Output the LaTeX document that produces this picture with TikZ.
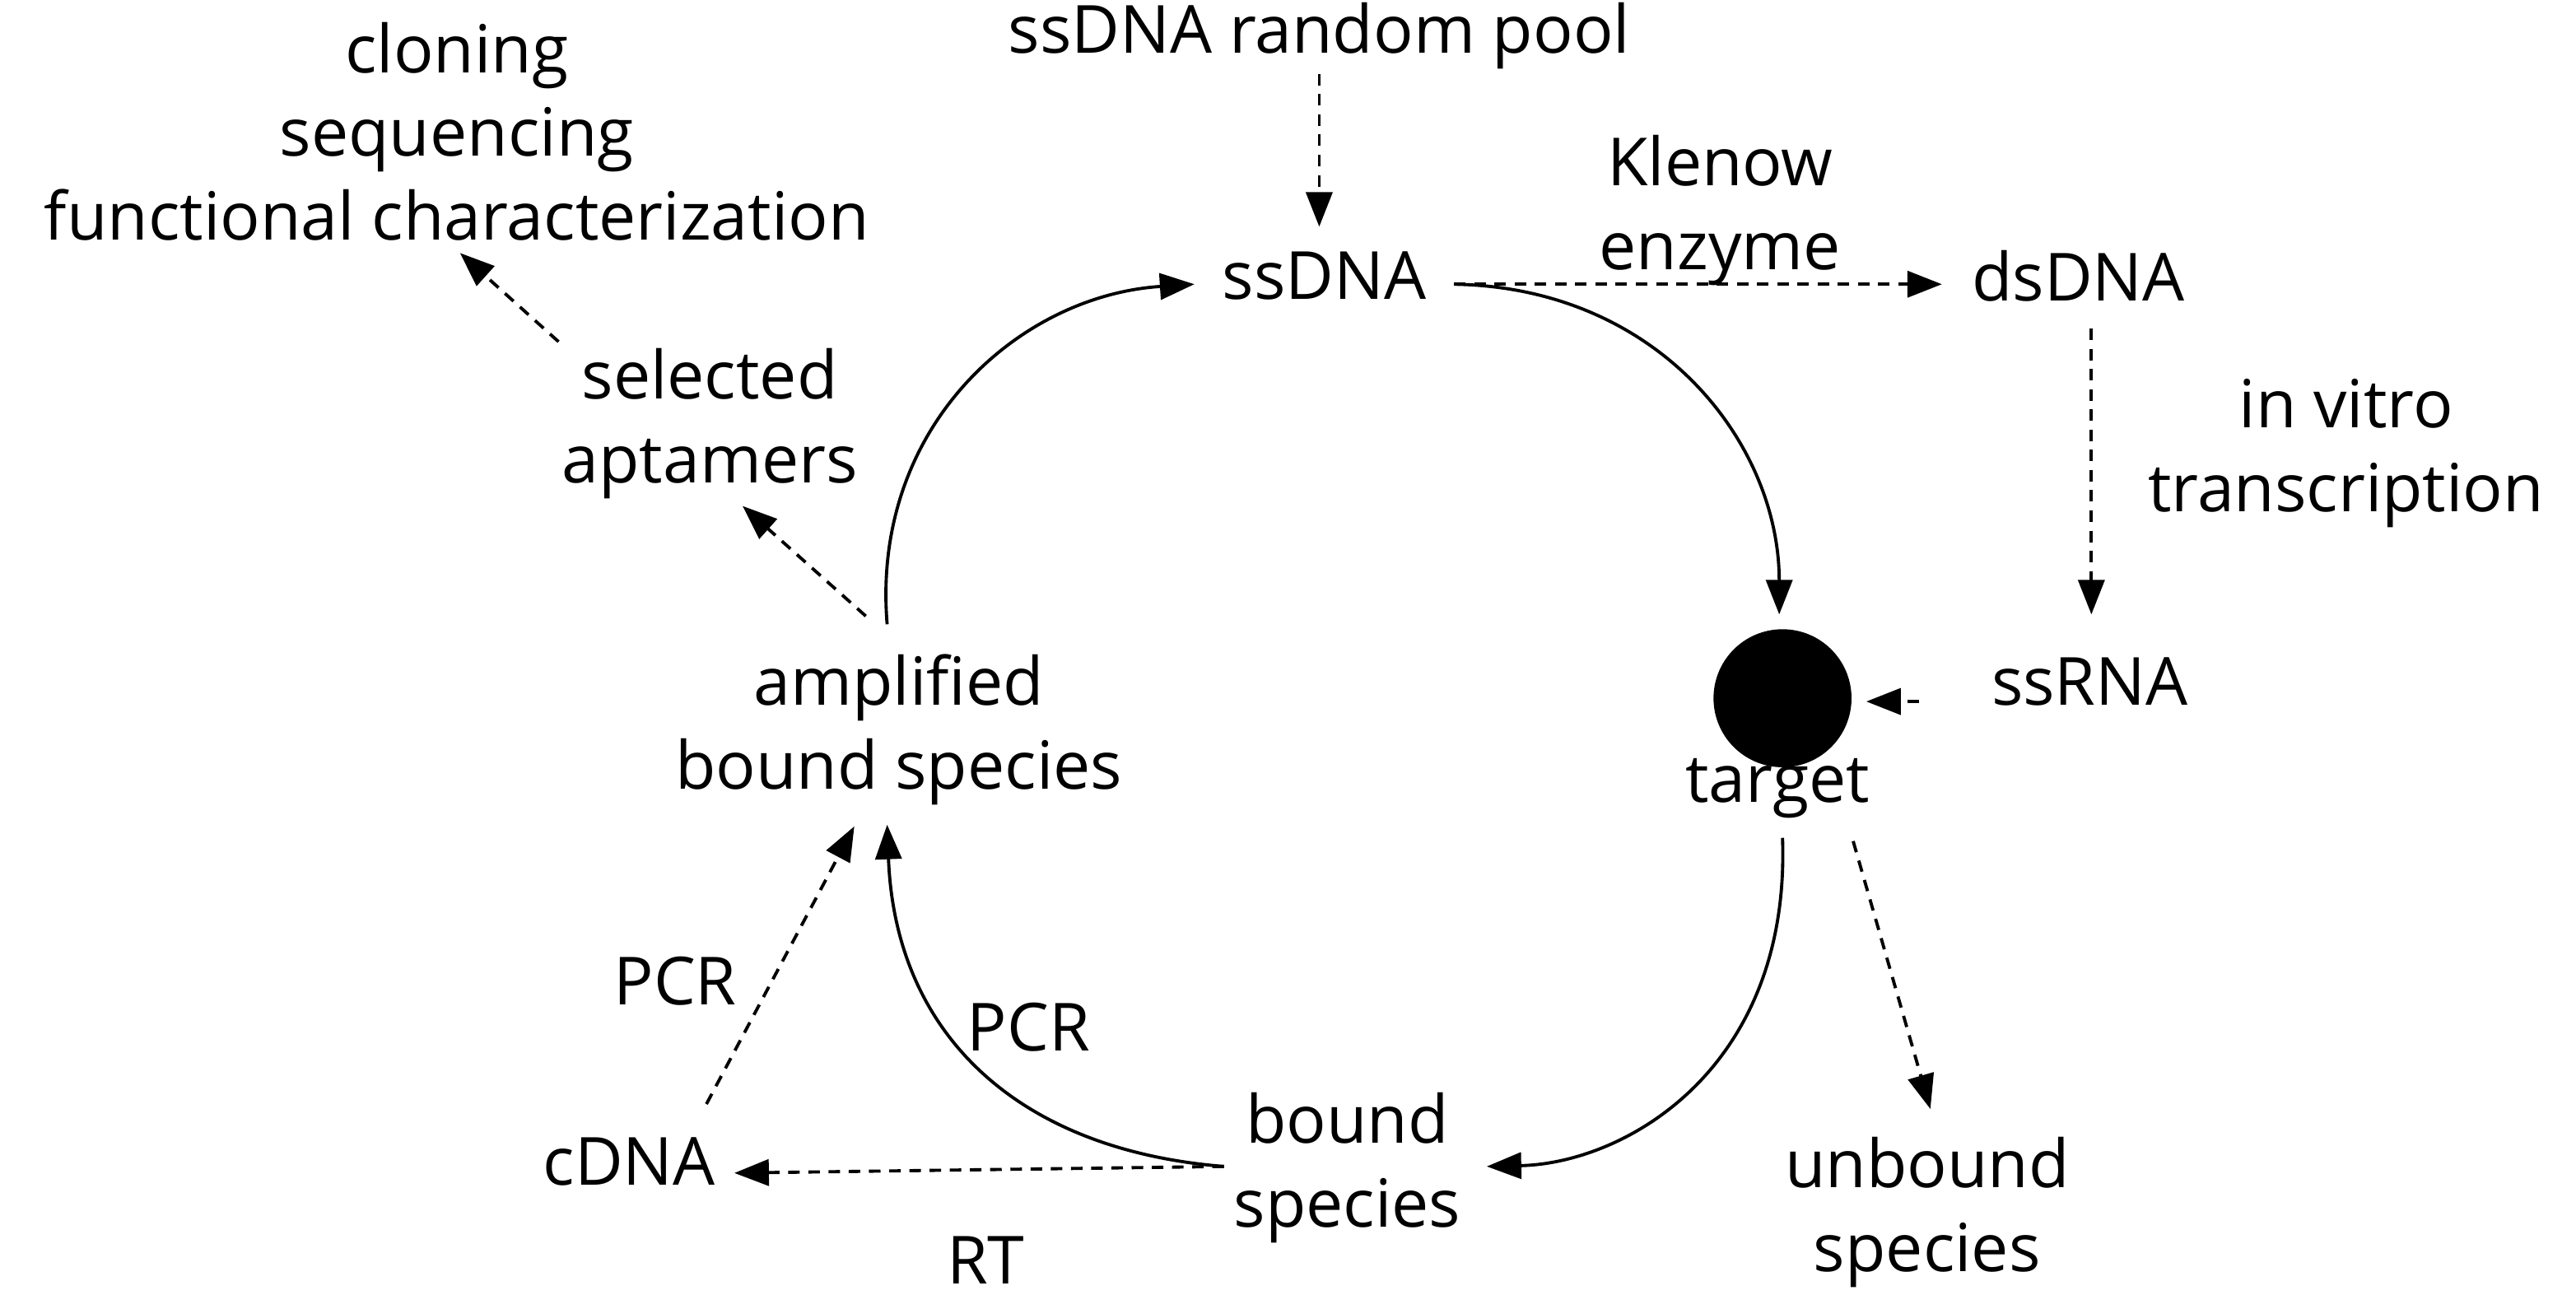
\documentclass[tikz,border=0pt]{standalone}
\usepackage{fontspec}
\setmainfont{Open Sans}
\usetikzlibrary{arrows.meta}
\begin{document}
\begin{tikzpicture}[x=0.02cm,y=-0.02cm,
  lbl/.style={font=\fontsize{23}{29}\selectfont,align=center,inner sep=0},
  tip/.style={-{Triangle[length=0.42cm,width=0.32cm]}},
  solid arr/.style={tip,line width=1.1pt},
  dash arr/.style={tip,line width=1.1pt,dash pattern=on 4pt off 3pt}]
\useasboundingbox (0,0) rectangle (1568,788);
\node[lbl] (pool) at (803,22) {ssDNA random pool};
\node[lbl] (clon) at (278,80) {cloning\\sequencing\\functional characterization};
\node[lbl] (ss) at (806,168) {ssDNA};
\node[lbl] (kl) at (1047,128) {Klenow\\enzyme};
\node[lbl] (ds) at (1265,168) {dsDNA};
\node[lbl] (ivt) at (1428,276) {in vitro\\transcription};
\node[lbl] (ssr) at (1272,415) {ssRNA};
\fill (1085,425) circle (42) coordinate (tg);
\node[lbl] (tgl) at (1082,480) {target};
\node[lbl] (sel) at (432,258) {selected\\aptamers};
\node[lbl] (amp) at (547,444) {amplified\\bound species};
\node[lbl] (pcr1) at (411,597) {PCR};
\node[lbl] (pcr2) at (626,625) {PCR};
\node[lbl] (cdna) at (383,707) {cDNA};
\node[lbl] (bnd) at (820,711) {bound\\species};
\node[lbl] (rt) at (600,767) {RT};
\node[lbl] (unb) at (1173,738) {unbound\\species};
\coordinate (a1) at (803,45); \coordinate (a2) at (803,138);
\draw[dash arr] (a1) -- (a2);
\coordinate (k1) at (885,173); \coordinate (k2) at (1182,173);
\draw[dash arr] (k1) -- (k2);
\coordinate (d1) at (1273,200); \coordinate (d2) at (1273,374);
\draw[dash arr] (d1) -- (d2);
\coordinate (r1) at (1168,427); \coordinate (r2) at (1136,427);
\draw[dash arr] (r1) -- (r2);
\coordinate (t1) at (1083,374);
\draw[solid arr] (k1) .. controls (1010,175) and (1083,270) .. (t1);
\coordinate (t2) at (1085,510); \coordinate (b1) at (905,710);
\draw[solid arr] (t2) .. controls (1090,650) and (990,708) .. (b1);
\coordinate (b2) at (745,710); \coordinate (am1) at (540,502);
\draw[solid arr] (b2) .. controls (620,700) and (545,630) .. (am1);
\coordinate (am2) at (540,380); \coordinate (s1) at (727,173);
\draw[solid arr] (am2) .. controls (530,260) and (620,180) .. (s1);
\coordinate (p1) at (527,375); \coordinate (p2) at (452,308);
\draw[dash arr] (p1) -- (p2);
\coordinate (q1) at (340,208); \coordinate (q2) at (280,154);
\draw[dash arr] (q1) -- (q2);
\coordinate (u1) at (1128,512); \coordinate (u2) at (1175,675);
\draw[dash arr] (u1) -- (u2);
\coordinate (c1) at (447,714);
\draw[dash arr] (b2) -- (c1);
\coordinate (c2) at (430,672); \coordinate (c3) at (520,503);
\draw[dash arr] (c2) -- (c3);
\end{tikzpicture}
\end{document}
